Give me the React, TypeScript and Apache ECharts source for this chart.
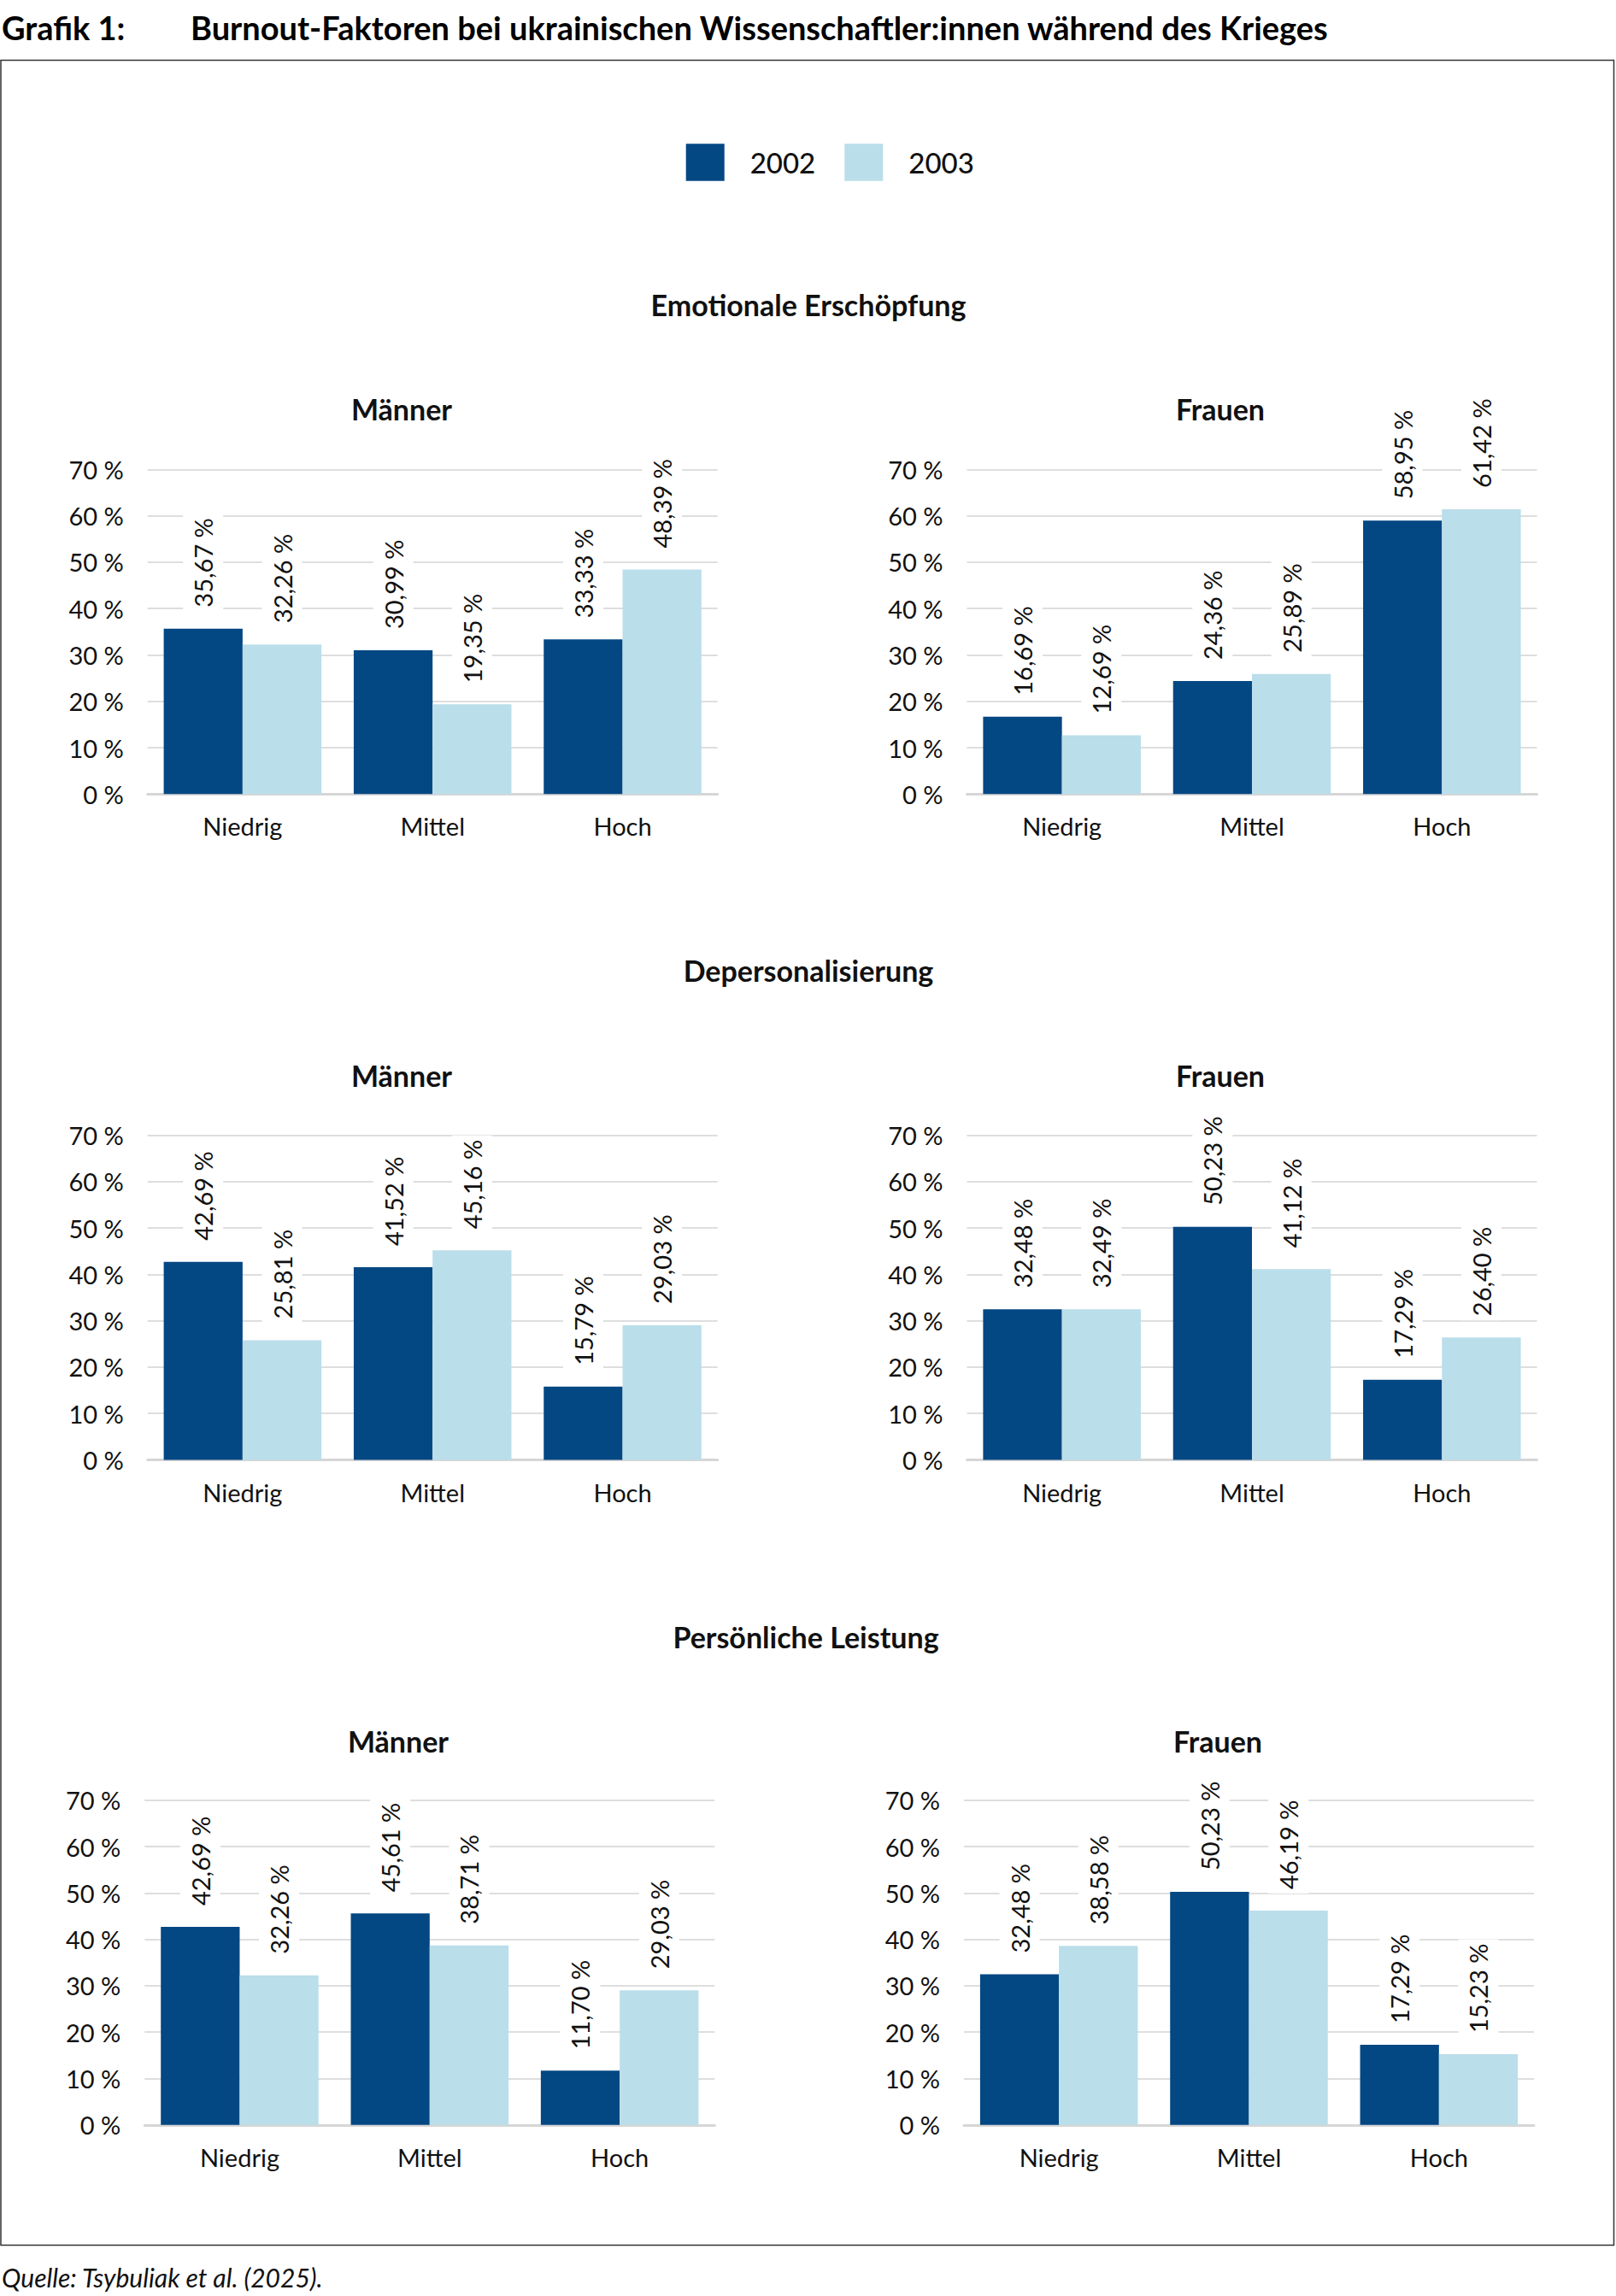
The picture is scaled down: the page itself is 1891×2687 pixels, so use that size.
import React, { useEffect, useRef } from "react";
import * as echarts from "echarts";

// ---------- data ----------
const CATEGORIES = ["Niedrig", "Mittel", "Hoch"];
const YEARS = ["2002", "2003"];
const Y_TICKS_MAX = 70;
const Y_TICK_STEP = 10;

const SECTIONS = ["Emotionale Erschöpfung", "Depersonalisierung", "Persönliche Leistung"];
const GENDERS = ["Männer", "Frauen"];

const EE_M_2002 = [35.67, 30.99, 33.33];
const EE_M_2003 = [32.26, 19.35, 48.39];
const EE_F_2002 = [16.69, 24.36, 58.95];
const EE_F_2003 = [12.69, 25.89, 61.42];

const DP_M_2002 = [42.69, 41.52, 15.79];
const DP_M_2003 = [25.81, 45.16, 29.03];
const DP_F_2002 = [32.48, 50.23, 17.29];
const DP_F_2003 = [32.49, 41.12, 26.4];

const PL_M_2002 = [42.69, 45.61, 11.7];
const PL_M_2003 = [32.26, 38.71, 29.03];
const PL_F_2002 = [32.48, 50.23, 17.29];
const PL_F_2003 = [38.58, 46.19, 15.23];

const TITLE_LABEL = "Grafik 1:";
const TITLE_TEXT = "Burnout-Faktoren bei ukrainischen Wissenschaftler:innen während des Krieges";
const SOURCE_TEXT = "Quelle: Tsybuliak et al. (2025).";

const PANELS = [
  [EE_M_2002, EE_M_2003],
  [EE_F_2002, EE_F_2003],
  [DP_M_2002, DP_M_2003],
  [DP_F_2002, DP_F_2003],
  [PL_M_2002, PL_M_2003],
  [PL_F_2002, PL_F_2003],
];

// ---------- layout / style ----------
const W = 1891;
const H = 2687;
const DARK = "#034783";
const LIGHT = "#BADEEA";
const FONT = "Lato";
const TXT = "#111111";

const ROW_TOP = [549.3, 1328.5, 2106.8];
const PLOT_H = 380;
const COL_LEFT = [
  [172.7, 1131.5],
  [172.7, 1131.5],
  [169.3, 1128.0],
];
const PLOT_W = 667;
const SECTION_POS = [
  [946, 356],
  [946, 1135],
  [943, 1915],
];
const SUB_POS = [
  [[470, 478], [1428, 478]],
  [[470, 1258], [1428, 1258]],
  [[466, 2037], [1425, 2037]],
];

function fmt(v: number) {
  return v.toFixed(2).replace(".", ",") + " %";
}

export default function App() {
  const ref = useRef<HTMLDivElement>(null);

  useEffect(() => {
    document.body.style.margin = "0";
    if (!ref.current) return;
    const chart = echarts.init(ref.current, undefined, { renderer: "svg", width: W, height: H });

    const grids: any[] = [];
    const xAxes: any[] = [];
    const yAxes: any[] = [];
    const series: any[] = [];
    const graphics: any[] = [];

    PANELS.forEach((pair, i) => {
      const r = Math.floor(i / 2);
      const c = i % 2;
      grids.push({
        left: COL_LEFT[r][c],
        top: ROW_TOP[r],
        width: PLOT_W,
        height: PLOT_H,
        containLabel: false,
      });
      xAxes.push({
        type: "category",
        gridIndex: i,
        data: CATEGORIES,
        axisTick: { show: false },
        axisLine: { show: true, lineStyle: { color: "#d6d6d6", width: 3 } },
        axisLabel: { fontSize: 29, fontFamily: FONT, color: TXT, margin: 23 },
      });
      yAxes.push({
        type: "value",
        gridIndex: i,
        min: 0,
        max: Y_TICKS_MAX,
        interval: Y_TICK_STEP,
        axisLine: { show: false },
        axisTick: { show: false },
        splitLine: { show: true, lineStyle: { color: "#dedede", width: 2 } },
        axisLabel: {
          fontSize: 29,
          fontFamily: FONT,
          color: TXT,
          margin: 28,
          formatter: "{value} %",
        },
      });
      pair.forEach((vals, k) => {
        series.push({
          type: "bar",
          name: YEARS[k],
          xAxisIndex: i,
          yAxisIndex: i,
          data: vals,
          barGap: "0%",
          barCategoryGap: "17%",
          itemStyle: { color: k === 0 ? DARK : LIGHT },
          label: {
            show: true,
            position: "top",
            rotate: 90,
            align: "left",
            verticalAlign: "middle",
            distance: 20,
            fontSize: 29,
            fontFamily: FONT,
            fontWeight: 400,
            color: TXT,
            backgroundColor: "#ffffff",
            padding: [9, 5, 9, 5],
            formatter: (p: any) => fmt(p.value),
          },
        });
      });
    });

    // frame
    graphics.push({
      type: "rect",
      shape: { x: 1, y: 70.5, width: 1887.5, height: 2557 },
      style: { fill: "none", stroke: "#333333", lineWidth: 1.5 },
      silent: true,
    });
    // main title
    graphics.push({
      type: "text",
      style: {
        text: TITLE_LABEL, x: 2, y: 32, fill: "#000", font: `bold 38px ${FONT}`,
        align: "left", verticalAlign: "middle", textAlign: "left",
      },
    });
    graphics.push({
      type: "text",
      style: {
        text: TITLE_TEXT, x: 223, y: 32, fill: "#000", font: `bold 38px ${FONT}`,
        align: "left", verticalAlign: "middle", textAlign: "left",
      },
    });
    // source
    graphics.push({
      type: "text",
      style: {
        text: SOURCE_TEXT, x: 2, y: 2665, fill: "#111", font: `italic 30px ${FONT}`,
        align: "left", verticalAlign: "middle", textAlign: "left",
      },
    });
    // section titles
    SECTIONS.forEach((s, r) => {
      graphics.push({
        type: "text",
        style: {
          text: s, x: SECTION_POS[r][0], y: SECTION_POS[r][1], fill: "#111",
          font: `bold 34px ${FONT}`, align: "center", verticalAlign: "middle", textAlign: "center",
        },
      });
      GENDERS.forEach((g, c) => {
        graphics.push({
          type: "text",
          style: {
            text: g, x: SUB_POS[r][c][0], y: SUB_POS[r][c][1], fill: "#111",
            font: `bold 34px ${FONT}`, align: "center", verticalAlign: "middle", textAlign: "center",
          },
        });
      });
    });

    chart.setOption({
      animation: false,
      backgroundColor: "#ffffff",
      textStyle: { fontFamily: FONT },
      legend: {
        data: YEARS,
        left: 802.7,
        top: 168.3,
        padding: 0,
        itemWidth: 45,
        itemHeight: 43.4,
        itemGap: 34,
        icon: "rect",
        selectedMode: false,
        textStyle: {
          fontSize: 33,
          fontFamily: FONT,
          fontWeight: 500,
          color: TXT,
          padding: [0, 0, 0, 25],
        },
      },
      grid: grids,
      xAxis: xAxes,
      yAxis: yAxes,
      series,
      graphic: { elements: graphics },
    });

    return () => chart.dispose();
  }, []);

  return <div ref={ref} style={{ width: W, height: H, background: "#fff" }} />;
}
